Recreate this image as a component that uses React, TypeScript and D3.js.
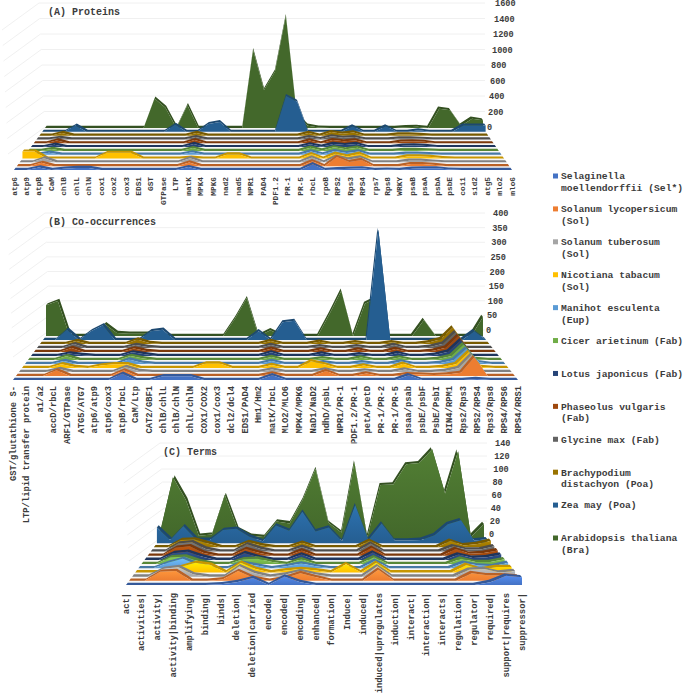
import React from "react";
import * as d3 from "d3";

const speciesNames = [
  ["Selaginella", "moellendorffii (Sel*)"],
  ["Solanum lycopersicum", "(Sol)"],
  ["Solanum tuberosum", "(Sol)"],
  ["Nicotiana tabacum", "(Sol)"],
  ["Manihot esculenta", "(Eup)"],
  ["Cicer arietinum (Fab)"],
  ["Lotus japonicus (Fab)"],
  ["Phaseolus vulgaris", "(Fab)"],
  ["Glycine max (Fab)"],
  ["Brachypodium", "distachyon (Poa)"],
  ["Zea may (Poa)"],
  ["Arabidopsis thaliana", "(Bra)"],
];
const speciesColors = ["#4472c4", "#ed7d31", "#a5a5a5", "#ffc000", "#5b9bd5", "#70ad47", "#264478", "#9e480e", "#636363", "#997300", "#255e91", "#43682b"];

// (A) Proteins
const proteinLabels = ["atp6", "atp9", "atpB", "CaM", "chlB", "chlL", "chlN", "cox1", "cox2", "cox3", "EDS1", "GST", "GTPase", "LTP", "matK", "MPK4", "MPK6", "nad2", "nad5", "NPR1", "PAD4", "PDF1.2", "PR-1", "PR-5", "rbcL", "rpoB", "RPS2", "Rps3", "RPS4", "rps7", "Rps8", "WRKY", "psaB", "psaA", "psbA", "psbE", "coi1", "sid2", "atg5", "mlo2", "mlo6"];
const proteinTicks = [0, 200, 400, 600, 800, 1000, 1200, 1400, 1600];
const protSel = [0, 0, 30, 0, 15, 25, 25, 0, 0, 0, 0, 0, 0, 0, 35, 0, 0, 0, 0, 0, 0, 0, 0, 0, 70, 0, 10, 15, 20, 0, 5, 0, 15, 20, 20, 5, 0, 0, 0, 0, 0];
const protLyc = [0, 0, 40, 0, 0, 0, 0, 0, 0, 0, 0, 0, 0, 0, 45, 0, 0, 0, 0, 0, 0, 0, 0, 0, 60, 0, 110, 50, 75, 0, 0, 0, 25, 25, 15, 0, 0, 0, 0, 0, 0];
const protTub = [0, 0, 50, 0, 0, 0, 0, 0, 0, 0, 0, 0, 0, 0, 50, 0, 0, 0, 0, 0, 0, 0, 0, 0, 60, 0, 70, 35, 60, 0, 0, 0, 20, 20, 10, 0, 0, 0, 0, 0, 0];
const protTab = [85, 85, 0, 0, 0, 0, 0, 70, 70, 70, 0, 0, 0, 0, 10, 0, 0, 50, 50, 0, 0, 0, 0, 0, 55, 0, 60, 25, 60, 0, 0, 0, 25, 25, 20, 5, 0, 0, 0, 0, 0];
const protEsc = [0, 0, 25, 0, 0, 0, 0, 0, 0, 0, 0, 0, 0, 0, 30, 0, 0, 0, 0, 0, 0, 0, 0, 0, 40, 5, 45, 20, 40, 0, 0, 0, 12, 12, 8, 0, 0, 0, 0, 0, 0];
const protAri = [0, 0, 25, 0, 0, 0, 0, 0, 0, 0, 0, 0, 0, 0, 35, 0, 0, 0, 0, 0, 0, 0, 0, 0, 40, 5, 45, 20, 40, 0, 0, 0, 12, 12, 5, 0, 0, 0, 0, 0, 0];
const protJap = [0, 0, 30, 0, 0, 0, 0, 0, 0, 0, 0, 0, 0, 0, 40, 0, 0, 0, 0, 0, 0, 0, 0, 0, 35, 5, 40, 25, 40, 0, 0, 0, 18, 22, 15, 0, 0, 0, 0, 0, 0];
const protVul = [0, 0, 35, 0, 0, 0, 0, 0, 0, 0, 0, 0, 0, 0, 40, 0, 0, 0, 0, 0, 0, 0, 0, 0, 35, 0, 40, 25, 35, 0, 0, 0, 22, 25, 18, 0, 0, 0, 0, 0, 0];
const protMax = [0, 0, 20, 0, 0, 0, 0, 0, 0, 0, 0, 0, 0, 0, 30, 0, 0, 0, 0, 0, 0, 0, 0, 0, 30, 5, 40, 20, 30, 0, 0, 0, 15, 15, 8, 0, 0, 0, 0, 0, 0];
const protDis = [0, 0, 35, 0, 0, 0, 0, 0, 0, 0, 0, 0, 0, 0, 35, 0, 0, 0, 0, 0, 0, 0, 0, 0, 35, 0, 45, 25, 40, 0, 0, 0, 15, 15, 8, 0, 0, 0, 0, 0, 0];
const protZea = [0, 0, 0, 80, 0, 0, 0, 0, 0, 0, 0, 0, 90, 0, 0, 100, 125, 0, 0, 0, 0, 0, 460, 385, 0, 0, 0, 0, 70, 0, 0, 70, 0, 0, 20, 0, 0, 0, 80, 80, 80];
const protAra = [0, 0, 0, 0, 0, 0, 0, 0, 0, 0, 380, 260, 0, 295, 0, 0, 0, 0, 0, 1010, 490, 730, 1450, 170, 30, 5, 0, 0, 0, 0, 0, 0, 0, 10, 15, 0, 250, 230, 30, 120, 100];

// (B) Co-occurrences
const pairLabels = ["GST/glutathione S-", "LTP/lipid transfer protein", "a1/a2", "accD/rbcL", "ARF1/GTPase", "ATG5/ATG7", "atp6/atp9", "atp6/cox3", "atpB/rbcL", "CaM/Ltp", "CAT2/GBF1", "chlB/chlL", "chlB/chlN", "chlL/chlN", "COX1/COX2", "cox1/cox3", "dcl2/dcl4", "EDS1/PAD4", "Hm1/Hm2", "matK/rbcL", "MLO2/MLO6", "MPK4/MPK6", "NaD1/NaD2", "ndhD/psbL", "NPR1/PR-1", "PDF1.2/PR-1", "petA/petD", "PR-1/PR-2", "PR-1/PR-5", "psaa/psab", "psbE/psbF", "PsbE/PsbI", "RIN4/RPM1", "Rps2/Rps3", "RPS2/RPS4", "Rps3/Rps8", "RPS4/RPS6", "RPS4/RRS1"];
const pairTicks = [0, 50, 100, 150, 200, 250, 300, 350, 400];
const pairSel = [0, 0, 0, 0, 0, 0, 0, 0, 20, 0, 0, 12, 12, 12, 0, 0, 0, 0, 0, 15, 0, 0, 0, 0, 0, 0, 0, 0, 0, 15, 0, 0, 0, 0, 3, 0, 0, 0];
const pairLyc = [0, 0, 0, 18, 0, 0, 0, 0, 18, 0, 0, 0, 0, 0, 0, 0, 0, 0, 0, 8, 0, 0, 0, 16, 0, 0, 8, 0, 0, 6, 5, 3, 5, 10, 60, 0, 0, 0];
const pairTub = [0, 0, 0, 10, 0, 0, 0, 0, 16, 3, 0, 0, 0, 0, 0, 0, 0, 0, 0, 8, 0, 0, 0, 8, 0, 0, 5, 0, 0, 8, 0, 0, 3, 12, 55, 0, 0, 0];
const pairTab = [0, 0, 0, 12, 3, 0, 8, 12, 12, 0, 0, 0, 0, 0, 15, 15, 0, 0, 0, 10, 0, 0, 22, 12, 0, 0, 8, 0, 0, 14, 0, 0, 3, 12, 52, 3, 0, 0];
const pairEsc = [0, 0, 0, 10, 0, 0, 0, 0, 15, 4, 0, 0, 0, 0, 0, 0, 0, 0, 0, 10, 0, 0, 0, 6, 0, 0, 6, 0, 0, 8, 0, 0, 3, 12, 50, 6, 0, 0];
const pairAri = [0, 0, 0, 12, 0, 0, 0, 0, 13, 5, 0, 0, 0, 0, 0, 0, 0, 0, 0, 10, 0, 0, 0, 6, 0, 0, 8, 0, 0, 8, 0, 0, 3, 12, 52, 3, 0, 0];
const pairJap = [0, 0, 0, 8, 3, 0, 0, 0, 12, 6, 0, 0, 0, 0, 0, 0, 0, 0, 0, 12, 0, 0, 0, 8, 0, 0, 6, 0, 0, 10, 0, 0, 4, 14, 52, 0, 0, 0];
const pairVul = [0, 0, 0, 13, 0, 0, 0, 0, 12, 3, 0, 0, 0, 0, 0, 0, 0, 0, 0, 11, 0, 0, 0, 8, 0, 0, 8, 0, 0, 10, 0, 0, 4, 14, 53, 0, 0, 0];
const pairMax = [0, 0, 0, 13, 0, 0, 0, 0, 10, 3, 0, 0, 0, 0, 0, 0, 0, 0, 0, 10, 0, 0, 0, 6, 0, 0, 6, 0, 0, 10, 0, 0, 4, 14, 53, 0, 0, 0];
const pairDis = [0, 0, 0, 10, 0, 0, 0, 0, 15, 3, 0, 0, 0, 0, 0, 0, 0, 0, 0, 10, 0, 0, 0, 8, 0, 0, 6, 0, 0, 6, 0, 0, 5, 16, 56, 0, 0, 0];
const pairZea = [0, 0, 35, 0, 30, 50, 0, 0, 0, 30, 35, 0, 0, 0, 0, 0, 0, 0, 30, 0, 60, 65, 0, 0, 0, 0, 0, 0, 375, 0, 0, 0, 0, 0, 0, 0, 30, 0];
const pairAra = [105, 120, 0, 0, 0, 40, 10, 8, 8, 8, 0, 0, 0, 0, 0, 0, 60, 130, 0, 20, 0, 0, 0, 0, 75, 155, 0, 110, 130, 0, 0, 0, 55, 0, 0, 0, 0, 65];

// (C) Terms
const termLabels = ["act|", "activities|", "activity|", "activity|binding", "amplifying|", "binding|", "binds|", "deletion|", "deletion|carried", "encode|", "encoded|", "encoding|", "enhanced|", "formation|", "Induce|", "induced|", "induced|upregulates", "induction|", "interact|", "interaction|", "interacts|", "regulation|", "regulator|", "required|", "support|requires", "suppressor|"];
const termTicks = [0, 20, 40, 60, 80, 100, 120, 140];
const termSel = [0, 0, 0, 0, 0, 0, 1, 4, 10, 0, 12, 4, 0, 0, 0, 0, 0, 0, 0, 0, 0, 0, 0, 4, 13, 11];
const termLyc = [0, 0, 13, 14, 0, 0, 2, 14, 4, 0, 4, 11, 5, 0, 0, 0, 16, 0, 0, 0, 0, 0, 11, 8, 8, 6];
const termTub = [0, 0, 11, 14, 3, 0, 0, 15, 5, 0, 3, 8, 3, 0, 0, 0, 15, 0, 0, 0, 0, 0, 10, 11, 6, 8];
const termTab = [0, 0, 0, 8, 14, 11, 0, 14, 5, 0, 3, 5, 3, 0, 12, 0, 14, 0, 0, 0, 0, 0, 11, 4, 8, 8];
const termEsc = [0, 0, 8, 14, 5, 0, 0, 8, 4, 0, 3, 7, 3, 0, 0, 0, 11, 0, 0, 0, 0, 0, 8, 4, 3, 8];
const termAri = [0, 0, 10, 11, 4, 0, 0, 7, 8, 3, 0, 7, 0, 0, 0, 0, 10, 0, 0, 0, 0, 0, 8, 3, 3, 7];
const termJap = [0, 0, 10, 12, 5, 0, 0, 10, 4, 0, 0, 8, 0, 0, 0, 0, 11, 0, 0, 0, 0, 0, 8, 3, 4, 8];
const termVul = [0, 0, 12, 14, 4, 0, 0, 10, 4, 0, 0, 8, 0, 0, 0, 0, 12, 0, 0, 0, 0, 0, 10, 3, 4, 8];
const termMax = [0, 0, 12, 14, 4, 0, 0, 11, 4, 0, 0, 7, 0, 0, 0, 0, 12, 0, 0, 0, 0, 0, 8, 3, 3, 8];
const termDis = [0, 0, 11, 12, 6, 0, 0, 8, 3, 0, 0, 7, 0, 0, 0, 0, 10, 0, 0, 0, 0, 0, 10, 3, 5, 10];
const termZea = [24, 5, 26, 5, 5, 20, 22, 10, 3, 27, 19, 48, 18, 24, 3, 58, 5, 30, 4, 4, 5, 12, 29, 35, 4, 6];
const termAra = [10, 95, 60, 5, 7, 68, 15, 5, 3, 27, 24, 60, 108, 25, 10, 118, 3, 83, 84, 115, 117, 138, 70, 135, 3, 23];

const proteinRows = [protSel, protLyc, protTub, protTab, protEsc, protAri, protJap, protVul, protMax, protDis, protZea, protAra];
const pairRows = [pairSel, pairLyc, pairTub, pairTab, pairEsc, pairAri, pairJap, pairVul, pairMax, pairDis, pairZea, pairAra];
const termRows = [termSel, termLyc, termTub, termTab, termEsc, termAri, termJap, termVul, termMax, termDis, termZea, termAra];

const MONO = "'Liberation Mono', 'DejaVu Sans Mono', monospace";
const INK = "#3c3c3c";

const Panel = ({ id, title, titleX, titleY, labels, rows, ticks, front, back, wall, labelTop, labelSize, shaded }: any) => {
  const last = rows.length - 1;
  const depth = d3.scaleLinear().domain([0, last]);
  const leftAt = depth.copy().range([front.x0, back.x0]);
  const rightAt = depth.copy().range([front.x1, back.x1]);
  const baseAt = depth.copy().range([front.y, back.y]);
  const stretch = depth.copy().range([1.08, 1]);
  const yMax = d3.max(ticks) as number;
  const wallY = d3.scaleLinear().domain([0, yMax]).range([wall.y0, wall.y1]);
  const wallLeft = d3.scaleLinear().domain([0, yMax]).range([wall.x0, wall.x0Top]);
  const tickLeft = d3.scaleLinear().domain([0, yMax]).range(wall.tickX);
  const perUnit = (wall.y0 - wall.y1) / yMax;

  const xAt = (s: number, i: number) =>
    d3.scaleLinear().domain([0, labels.length - 1]).range([leftAt(s), rightAt(s)])(i);
  const yAt = (s: number, v: number) => baseAt(s) - v * perUnit * stretch(s);

  const slab = 0.56;

  return (
    <g>
      {/* walls */}
      {ticks.map((t: number) => (
        <g key={t} stroke="#ececec" strokeWidth={0.8} fill="none">
          <line x1={wallLeft(t)} x2={wall.x1} y1={wallY(t)} y2={wallY(t)} />
          <line x1={wallLeft(t)} x2={wallLeft(t) - 37} y1={wallY(t)} y2={wallY(t) + 27} />
        </g>
      ))}
      <polygon
        points={[
          [leftAt(0), baseAt(0)],
          [rightAt(0), baseAt(0)],
          [rightAt(last), baseAt(last)],
          [leftAt(last), baseAt(last)],
        ].join(" ")}
        fill="#f6f6f6"
      />
      {/* series back to front */}
      {rows
        .map((vals: number[], s: number) => {
          const c = speciesColors[s];
          const strip = d3
            .area<number>()
            .x0((_, i) => xAt(s, i))
            .y0((v) => yAt(s, v))
            .x1((_, i) => xAt(s + slab, i))
            .y1((v) => yAt(s + slab, v));
          const face = d3
            .area<number>()
            .x((_, i) => xAt(s, i))
            .y0(baseAt(s))
            .y1((v) => yAt(s, v));
          const gid = `${id}-g${s}`;
          return (
            <g key={s}>
              {shaded && (
                <linearGradient id={gid} x1="0" x2="0" y1="0" y2="1">
                  <stop offset="0" stopColor={d3.color(c)!.brighter(0.55).formatHex()} />
                  <stop offset="1" stopColor={c} />
                </linearGradient>
              )}
              <path d={strip(vals)!} fill={d3.color(c)!.darker(0.7).formatHex()} />
              <path d={face(vals)!} fill={shaded ? `url(#${gid})` : c} />
            </g>
          );
        })
        .reverse()}
      {ticks.map((t: number) => (
        <text key={t} x={tickLeft(t)} y={wallY(t)} dy="0.35em" fontSize={8.6} fontFamily={MONO} fontWeight="bold" fill={INK}>
          {t}
        </text>
      ))}
      {labels.map((l: string, i: number) => (
        <text
          key={l + i}
          transform={`translate(${xAt(0, i) + 2.5},${labelTop}) rotate(-90)`}
          textAnchor="end"
          fontSize={labelSize}
          fontFamily={MONO}
          fontWeight="bold"
          fill={INK}
        >
          {l}
        </text>
      ))}
      <text x={titleX} y={titleY} dy="0.35em" fontSize={10} fontFamily={MONO} fontWeight="bold" fill={INK}>
        {title}
      </text>
    </g>
  );
};

const Legend = () => {
  const y = d3.scaleLinear().domain([0, 11]).range([176, 538]);
  return (
    <g>
      {speciesNames.map((lines, s) => (
        <g key={s}>
          <rect x={553} y={y(s) - 2.5} width={5} height={5} fill={speciesColors[s]} />
          {lines.map((t, k) => (
            <text key={t} x={561} y={y(s) + k * 11.5} dy="0.35em" fontSize={9.7} fontFamily={MONO} fontWeight="bold" fill={INK}>
              {t}
            </text>
          ))}
        </g>
      ))}
    </g>
  );
};

export default function App() {
  return (
    <svg width={685} height={696} style={{ position: "absolute", left: 0, top: 0, display: "block" }}>
      <Panel
        id="a"
        title="(A) Proteins"
        titleX={48}
        titleY={11}
        labels={proteinLabels}
        rows={proteinRows}
        ticks={proteinTicks}
        front={{ x0: 14, x1: 512, y: 170 }}
        back={{ x0: 45, x1: 483, y: 128 }}
        wall={{ x0: 45, x0Top: 39, x1: 485, y0: 127, y1: 3, tickX: [487, 495] }}
        labelTop={177}
        labelSize={7.8}
      />
      <Panel
        id="b"
        title="(B) Co-occurrences"
        titleX={48}
        titleY={221}
        labels={pairLabels}
        rows={pairRows}
        ticks={pairTicks}
        front={{ x0: 13, x1: 518, y: 380 }}
        back={{ x0: 46, x1: 483, y: 336 }}
        wall={{ x0: 50, x0Top: 45, x1: 485, y0: 330, y1: 213, tickX: [486, 493] }}
        labelTop={386}
        labelSize={8.8}
      />
      <Panel
        id="c"
        title="(C) Terms"
        titleX={163}
        titleY={451}
        labels={termLabels}
        rows={termRows}
        ticks={termTicks}
        front={{ x0: 126, x1: 522, y: 585 }}
        back={{ x0: 160, x1: 484, y: 539 }}
        wall={{ x0: 166, x0Top: 160, x1: 487, y0: 534, y1: 443, tickX: [489, 495] }}
        labelTop={593}
        labelSize={8.8}
        shaded
      />
      <Legend />
    </svg>
  );
}
